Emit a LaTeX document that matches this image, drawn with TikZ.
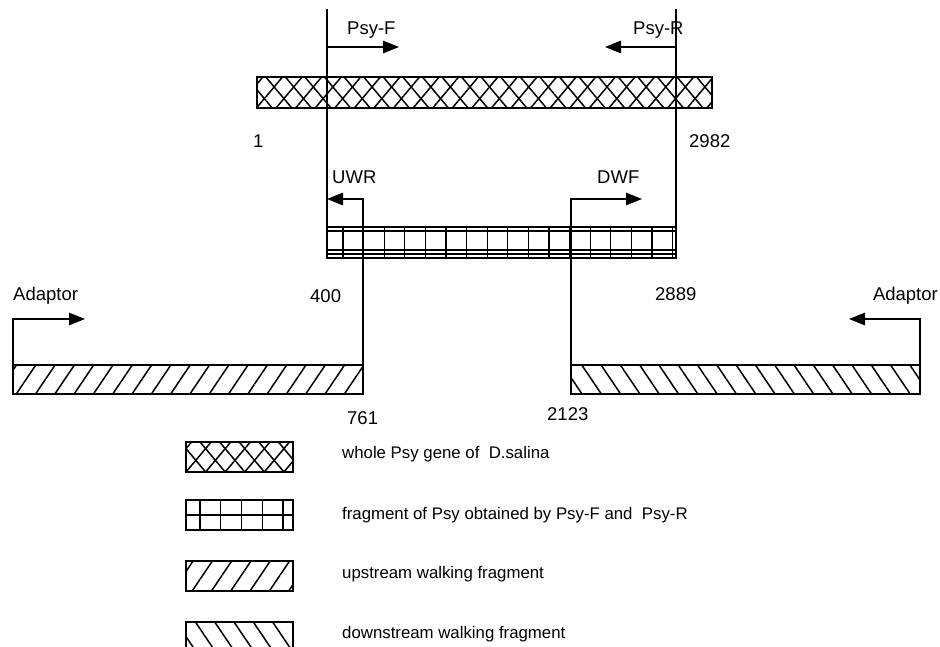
\documentclass[tikz,border=0pt]{standalone}
\usepackage{fontspec}
\setmainfont{Liberation Sans}
\usetikzlibrary{arrows.meta,patterns.meta}

\begin{document}
\begin{tikzpicture}[
    x=1pt, y=-1pt,
    bar/.style={rectangle, draw, line width=1.5pt, inner sep=0pt, outer sep=0pt, anchor=north west},
    lbl/.style={anchor=base west, inner sep=0pt, font=\fontsize{18.5}{21}\selectfont},
    key/.style={anchor=mid west, inner sep=0pt, font=\fontsize{16.8}{19}\selectfont},
    primer/.style={-{Triangle[length=16pt,width=12.5pt]}, line width=1.3pt},
    guide/.style={line width=1.3pt},
    cell/.style={line width=1.3pt},
    upfill/.style={pattern={Lines[angle=56,distance=16pt,line width=1.5pt]}},
    downfill/.style={pattern={Lines[angle=-56,distance=16pt,line width=1.5pt]}},
    crossfill/.style={pattern={Lines[angle=50,distance=15pt,line width=1.5pt]},
        preaction={pattern={Lines[angle=-50,distance=15pt,line width=1.5pt]}}}
]
\useasboundingbox (0,0) rectangle (940,647);
\clip (0,0) rectangle (940,647);

% Gene and fragments
\node[bar, crossfill, minimum width=455pt, minimum height=31pt] (gene) at (257,77) {};
\node[bar, minimum width=349pt, minimum height=31pt] (frag) at (327,227) {};
\node[bar, upfill, minimum width=350pt, minimum height=29pt] (up) at (13,365) {};
\node[bar, downfill, minimum width=349pt, minimum height=29pt] (down) at (571,365) {};

% cells of the Psy fragment
\foreach \i in {0,...,16}
    \draw[cell] (343+20.6*\i,227) -- (343+20.6*\i,258);
\foreach \y in {231,250,254}
    \draw[cell] (frag.west |- 0,\y) -- (frag.east |- 0,\y);

% Primer sites
\coordinate (lt) at (327,9);
\coordinate (rt) at (676,9);
\coordinate (psyFs) at (327,47);
\coordinate (psyFe) at (399,47);
\coordinate (psyRs) at (676,47);
\coordinate (psyRe) at (605,47);
\coordinate (uwrE) at (327,199);
\coordinate (dwfE) at (642,199);
\coordinate (adL) at (85,319);
\coordinate (adR) at (849,319);

\draw[guide] (lt) -- (frag.north west);
\draw[guide] (rt) -- (frag.north east);
\draw[primer] (psyFs) -- (psyFe);
\draw[primer] (psyRs) -- (psyRe);
\draw[primer] (up.north east) |- (uwrE);
\draw[primer] (down.north west) |- (dwfE);
\draw[primer] (up.north west) |- (adL);
\draw[primer] (down.north east) |- (adR);

% Labels
\node[lbl] (lpsyF) at (347,35) {Psy-F};
\node[lbl] (lpsyR) at (633,35) {Psy-R};
\node[lbl] (n1) at (253,148) {1};
\node[lbl] (n2982) at (689,148) {2982};
\node[lbl] (luwr) at (332,184) {UWR};
\node[lbl] (ldwf) at (597,184) {DWF};
\node[lbl] (ladL) at (13,301) {Adaptor};
\node[lbl, anchor=base east] (ladR) at (938,301) {Adaptor};
\node[lbl] (n400) at (310,302) {400};
\node[lbl] (n2889) at (655,301) {2889};
\node[lbl] (n761) at (347,424) {761};
\node[lbl] (n2123) at (547,420) {2123};

% Legend
\node[bar, crossfill, minimum width=107pt, minimum height=30pt] (k1) at (186,442) {};
\node[bar, minimum width=107pt, minimum height=30pt] (k2) at (186,500) {};
\foreach \i in {0,...,4}
    \draw[cell] (200+20.75*\i,500) -- (200+20.75*\i,530);
\draw[cell] (k2.west) -- (k2.east);
\node[bar, upfill, minimum width=107pt, minimum height=30pt] (k3) at (186,561) {};
\node[bar, downfill, minimum width=107pt, minimum height=30pt] (k4) at (186,622) {};

\node[key] (t1) at (342,456) {whole Psy gene of \ D.salina};
\node[key] (t2) at (342,517) {fragment of Psy obtained by Psy-F and \ Psy-R};
\node[key] (t3) at (342,576) {upstream walking fragment};
\node[key] (t4) at (342,636) {downstream walking fragment};

\end{tikzpicture}
\end{document}
